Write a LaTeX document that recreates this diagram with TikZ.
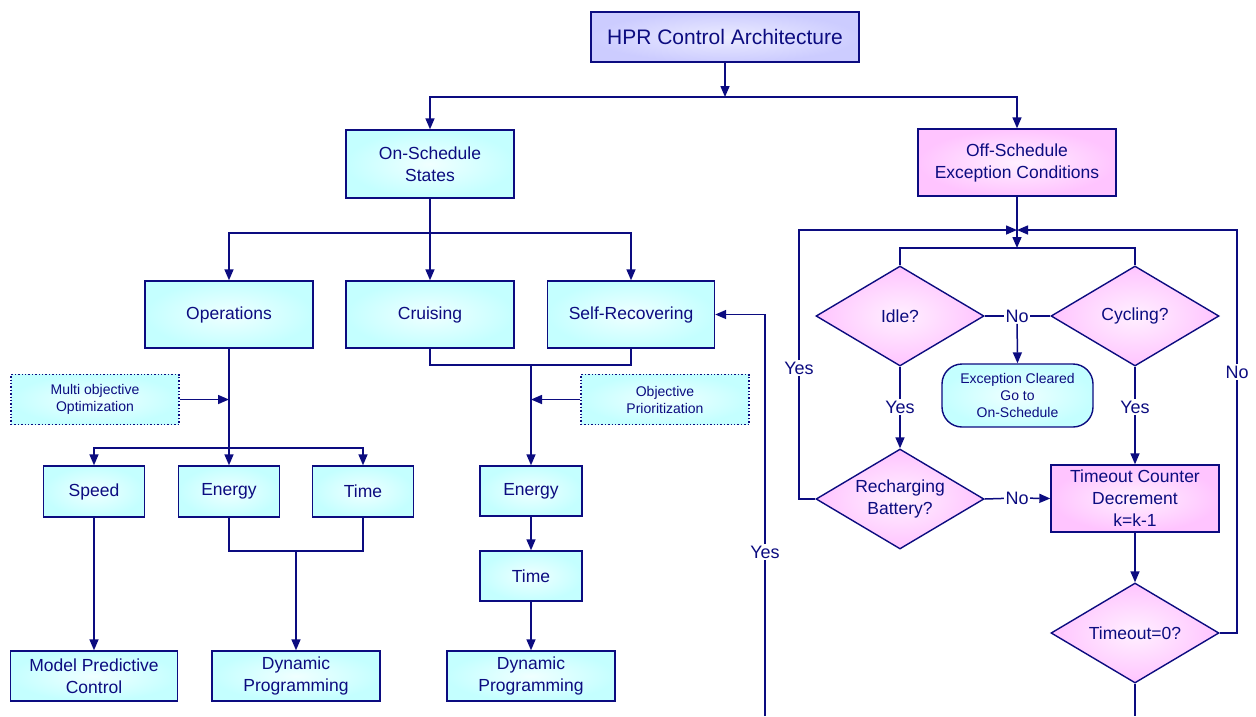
\documentclass[tikz,border=0pt]{standalone}
\usepackage{fontspec}
\setmainfont{Liberation Sans}
\usetikzlibrary{shapes.geometric,arrows.meta}
\definecolor{navy}{RGB}{12,12,128}
\definecolor{cyanE}{RGB}{196,255,255}
\definecolor{cyanC}{RGB}{240,255,255}
\definecolor{pinkE}{RGB}{255,196,255}
\definecolor{pinkC}{RGB}{255,240,255}
\definecolor{lavE}{RGB}{204,204,255}
\definecolor{lavC}{RGB}{236,236,255}
\tikzset{
  conn/.style={draw=navy, line width=1.5pt},
  arr/.style={conn, -{Triangle[length=11pt,width=9pt]}},
  boxbase/.style={draw=navy, line width=1.4pt, text=navy, align=center, inner sep=0pt, font=\fontsize{17.5}{22}\selectfont},
  cbox/.style={boxbase, rectangle, inner color=cyanC, outer color=cyanE},
  pbox/.style={boxbase, rectangle, inner color=pinkC, outer color=pinkE},
  tbox/.style={boxbase, rectangle, inner color=lavC, outer color=lavE, font=\fontsize{21}{25}\selectfont},
  dbox/.style={cbox, dotted, line width=1.2pt, font=\fontsize{14}{17}\selectfont},
  dia/.style={boxbase, diamond, inner color=pinkC, outer color=pinkE, minimum width=168pt, minimum height=100pt},
  dtext/.style={text=navy, align=center, inner sep=0pt, font=\fontsize{17.5}{22}\selectfont},
  lbl/.style={text=navy, fill=white, inner sep=1.5pt, font=\fontsize{18}{22}\selectfont},
  rbox/.style={cbox, rounded corners=20pt, font=\fontsize{14}{17}\selectfont},
}
\begin{document}
\begin{tikzpicture}[x=1pt, y=-1pt]
\useasboundingbox (0,0) rectangle (1256,716);
\fill[white] (0,0) rectangle (1256,716);

% top
\node[tbox, minimum width=268pt, minimum height=50pt] (title) at (725,37) {HPR Control Architecture};
\node[cbox, minimum width=168pt, minimum height=68pt] (onsch) at (430,164) {On-Schedule\\States};
\node[pbox, minimum width=198pt, minimum height=67pt] (offsch) at (1017,162.5) {Off-Schedule\\Exception Conditions};

% on-schedule level
\node[cbox, minimum width=168pt, minimum height=67pt] (ops) at (229,314.5) {Operations};
\node[cbox, minimum width=168pt, minimum height=67pt] (cruis) at (430,314.5) {Cruising};
\node[cbox, minimum width=167pt, minimum height=67pt] (selfrec) at (631,314.5) {Self-Recovering};

\node[dbox, minimum width=168pt, minimum height=50pt] (multi) at (95,399.5) {Multi objective\\Optimization};
\node[dbox, minimum width=168pt, minimum height=50pt] (objp) at (665,399.5) {Objective\\Prioritization};

\node[cbox, minimum width=101pt, minimum height=51pt] (speed) at (94,491.5) {Speed};
\node[cbox, minimum width=101pt, minimum height=51pt] (energyA) at (229,491.5) {Energy};
\node[cbox, minimum width=101pt, minimum height=51pt] (timeA) at (363,491.5) {Time};

\node[cbox, minimum width=102pt, minimum height=50pt] (energyB) at (531,491) {Energy};
\node[cbox, minimum width=102pt, minimum height=50pt] (timeB) at (531,576) {Time};

\node[cbox, minimum width=167pt, minimum height=50pt] (mpc) at (94,676) {Model Predictive\\Control};
\node[cbox, minimum width=168pt, minimum height=50pt] (dpA) at (296,676) {Dynamic\\Programming};
\node[cbox, minimum width=168pt, minimum height=50pt] (dpB) at (531,676) {Dynamic\\Programming};

% right side
\node[dia, label={[dtext]center:Idle?}] (idle) at (900,316) {};
\node[dia, label={[dtext]center:Cycling?}] (cyc) at (1135,316) {};
\node[dia, label={[dtext]center:{Recharging\\Battery?}}] (rech) at (900,499) {};
\node[dia, label={[dtext]center:{Timeout=0?}}] (tzero) at (1135,633) {};
\node[rbox, minimum width=151pt, minimum height=63pt] (exc) at (1017.5,395.5) {Exception Cleared\\Go to\\On-Schedule};
\node[pbox, minimum width=168pt, minimum height=67pt] (tcount) at (1135,498.5) {Timeout Counter\\Decrement\\k=k-1};

% labels
\node[lbl] (noIdle) at (1017,316) {No};
\node[lbl] (yesIdle) at (900,407) {Yes};
\node[lbl] (yesCyc) at (1135,407) {Yes};
\node[lbl] (yesLeft) at (799,368) {Yes};
\node[lbl] (noRight) at (1237,372) {No};
\node[lbl] (noRech) at (1017,498) {No};
\node[lbl] (yesSR) at (765,552) {Yes};

% coordinates
\coordinate (j1) at (725,97);
\coordinate (j2) at (430,233);
\coordinate (j3) at (229,448);
\coordinate (j4) at (296,551);
\coordinate (j5) at (531,365);
\coordinate (j6) at (1017,230);
\coordinate (j7) at (1017,248);
\coordinate (sr0) at (765,716);
\coordinate (t1) at (1135,716);

% connectors top
\draw[arr] (title.south) -- (j1);
\draw[arr] (j1) -| (onsch.north);
\draw[arr] (j1) -| (offsch.north);
\draw[conn] (onsch.south) -- (j2);
\draw[arr] (j2) -| (ops.north);
\draw[arr] (j2) -- (cruis.north);
\draw[arr] (j2) -| (selfrec.north);

% operations branch
\draw[conn] (ops.south) -- (j3);
\draw[arr] (multi.east) -- (multi.east -| j3);
\draw[arr] (j3) -| (speed.north);
\draw[arr] (j3) -- (energyA.north);
\draw[arr] (j3) -| (timeA.north);
\draw[arr] (speed.south) -- (mpc.north);
\draw[conn] (energyA.south) |- (j4) -| (timeA.south);
\draw[arr] (j4) -- (dpA.north);

% cruising / self-recovering branch
\draw[conn] (cruis.south) |- (j5) -| (selfrec.south);
\draw[arr] (j5) -- (energyB.north);
\draw[arr] (objp.west) -- (objp.west -| j5);
\draw[arr] (energyB.south) -- (timeB.north);
\draw[arr] (timeB.south) -- (dpB.north);
\draw[conn] (sr0) -- (yesSR);
\draw[arr] (yesSR) |- (selfrec.east);

% exception branch
\draw[conn] (offsch.south) -- (j6);
\draw[arr] (j6) -- (j7);
\draw[conn] (idle.north) |- (j7) -| (cyc.north);
\draw[conn] (idle.east) -- (noIdle);
\draw[conn] (noIdle) -- (cyc.west);
\draw[arr] (noIdle) -- (exc.north);
\draw[conn] (idle.south) -- (yesIdle);
\draw[arr] (yesIdle) -- (rech.north);
\draw[conn] (cyc.south) -- (yesCyc);
\draw[arr] (yesCyc) -- (tcount.north);
\draw[conn] (rech.east) -- (noRech);
\draw[arr] (noRech) -- (tcount.west);
\draw[conn] (rech.west) -| (yesLeft);
\draw[arr] (yesLeft) |- (j6);
\draw[arr] (tcount.south) -- (tzero.north);
\draw[conn] (tzero.east) -| (noRight);
\draw[arr] (noRight) |- (j6);
\draw[conn] (tzero.south) -- (t1);
\end{tikzpicture}
\end{document}
